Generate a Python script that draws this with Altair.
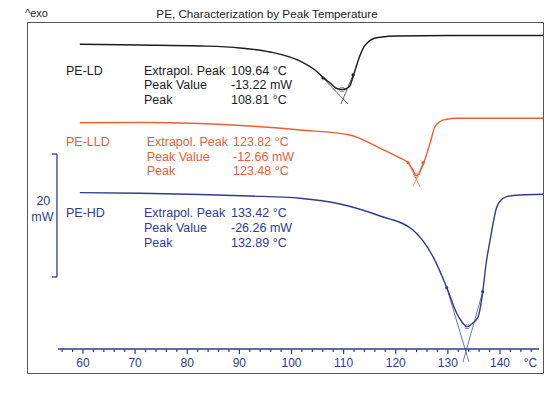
import altair as alt
import pandas as pd

# ---------------- data ----------------
# temperatures (°C) and displayed heat flow (mW, curves shown with their plot offsets)
ld_T = [59.4, 70.9, 82.5, 90.1, 95.9, 101.6, 104.5, 106.0, 107.4, 108.7, 109.7, 110.6,
        111.2, 111.8, 112.4, 113.1, 113.9, 114.7, 115.8, 117.4, 119.9, 130.4, 148.25]
ld_mW = [53.45, 53.33, 53.17, 52.85, 52.20, 50.73, 49.27, 48.13, 47.15, 46.26, 46.10, 46.26,
         46.67, 48.13, 49.76, 51.54, 53.01, 53.82, 54.39, 54.63, 54.80, 54.88, 54.88]

lld_T = [59.4, 70.9, 82.5, 92.0, 101.6, 111.2, 116.4, 120.8, 122.35, 123.3, 123.9, 124.5,
         124.8, 125.4, 126.0, 126.6, 127.5, 128.5, 129.6, 131.75, 148.25]
lld_mW = [40.70, 40.73, 40.57, 40.16, 39.51, 38.70, 36.80, 34.96, 34.20, 33.01, 32.11, 32.36,
          33.01, 34.20, 35.77, 37.40, 40.00, 40.89, 41.22, 41.41, 41.41]

hd_T = [59.4, 70.9, 82.5, 92.0, 101.6, 109.3, 117.0, 123.3, 127.15, 129.8, 131.7, 132.7,
        133.7, 134.8, 135.8, 136.7, 137.3, 138.1, 139.4, 140.2, 141.3, 143.8, 148.25]
hd_mW = [29.32, 29.22, 29.02, 28.78, 28.41, 27.48, 25.53, 23.25, 18.91, 13.87, 9.71, 8.29,
         7.53, 8.13, 9.15, 13.22, 17.56, 21.63, 27.04, 28.13, 28.67, 28.94, 29.06]

# tangent construction (start T, start mW, end T, end mW)
ld_tan = [[106.04, 47.97, 110.84, 43.74], [111.80, 48.46, 109.50, 43.74]]
lld_tan = [[122.35, 34.20, 124.65, 30.29], [125.23, 34.20, 123.31, 30.29]]
hd_tan = [[129.78, 13.87, 134.05, 1.79], [136.68, 13.22, 132.90, 1.79]]
# peak points
peaks_T = [109.7, 123.9, 133.7]
peaks_mW = [46.10, 32.11, 7.53]

# axis
tick_values = list(range(56, 147, 2))
label_values = [60, 70, 80, 90, 100, 110, 120, 130, 140]
unit_label = "°C"

# result texts
ld_lines = [["PE-LD", "Extrapol. Peak", "109.64 °C"], ["", "Peak Value", "-13.22 mW"], ["", "Peak", "108.81 °C"]]
lld_lines = [["PE-LLD", "Extrapol. Peak", "123.82 °C"], ["", "Peak Value", "-12.66 mW"], ["", "Peak", "123.48 °C"]]
hd_lines = [["PE-HD", "Extrapol. Peak", "133.42 °C"], ["", "Peak Value", "-26.26 mW"], ["", "Peak", "132.89 °C"]]

title_text = "PE, Characterization by Peak Temperature"
exo_text = "^exo"
scale_bar_mW = 20

BLACK = "#1c1c1c"
ORANGE = "#E5603A"
BLUE = "#2F3C8E"
FONT = "Liberation Sans"

xs = alt.Scale(domain=[49.26, 148.25], nice=False, zero=False)
ys = alt.Scale(domain=[0, 57.07], nice=False, zero=False)


def X(f):
    return alt.X(f, type="quantitative", scale=xs, axis=None)


def Y(f):
    return alt.Y(f, type="quantitative", scale=ys, axis=None)


def curve(T, mW, color):
    df = pd.DataFrame({"T": T, "mW": mW, "i": list(range(len(T)))})
    return alt.Chart(df).mark_line(color=color, strokeWidth=1.4, interpolate="monotone").encode(
        x=X("T"), y=Y("mW"), order="i:Q")


def tangents(tan, color):
    df = pd.DataFrame(tan, columns=["T1", "m1", "T2", "m2"])
    lines = alt.Chart(df).mark_rule(color=color, strokeWidth=0.7).encode(
        x=X("T1"), y=Y("m1"), x2="T2", y2="m2")
    pts = alt.Chart(df).mark_point(color=color, filled=True, size=10, opacity=1).encode(
        x=X("T1"), y=Y("m1"))
    return lines + pts


def textblock(lines, color, x_cols, y_rows):
    rows = []
    for r, line in enumerate(lines):
        for c, t in enumerate(line):
            if t:
                rows.append({"t": t, "T": x_cols[c], "mW": y_rows[r]})
    df = pd.DataFrame(rows)
    return alt.Chart(df).mark_text(color=color, font=FONT, fontSize=12.5, align="left",
                                   baseline="middle").encode(x=X("T"), y=Y("mW"), text="t:N")


layers = []
layers.append(curve(ld_T, ld_mW, BLACK))
layers.append(curve(lld_T, lld_mW, ORANGE))
layers.append(curve(hd_T, hd_mW, BLUE))
layers.append(tangents(ld_tan, BLACK))
layers.append(tangents(lld_tan, ORANGE))
layers.append(tangents(hd_tan, BLUE))

pk = pd.DataFrame({"T": peaks_T, "mW": peaks_mW, "c": ["LD", "LLD", "HD"]})
layers.append(alt.Chart(pk).mark_point(shape="cross", angle=45, size=22, strokeWidth=0.8, filled=False).encode(
    x=X("T"), y=Y("mW"),
    color=alt.Color("c:N", scale=alt.Scale(domain=["LD", "LLD", "HD"], range=[BLACK, ORANGE, BLUE]), legend=None)))

# texts
layers.append(textblock(ld_lines, BLACK, [56.74, 71.70, 88.39], [49.15, 46.78, 44.39]))
layers.append(textblock(lld_lines, ORANGE, [56.74, 72.22, 88.78], [37.61, 35.17, 32.89]))
layers.append(textblock(hd_lines, BLUE, [56.74, 71.70, 88.39], [26.02, 23.53, 21.19]))

# axis line, ticks, labels
axis_y = 3.90
ax = pd.DataFrame({"a": [55.2], "b": [147.5], "y": [axis_y]})
layers.append(alt.Chart(ax).mark_rule(color=BLUE, strokeWidth=1.3).encode(x=X("a"), x2="b", y=Y("y")))
tk = pd.DataFrame({"T": tick_values})
tk["y"] = axis_y
tk["y2"] = [axis_y - (0.8 if v % 10 == 0 else 0.5) for v in tick_values]
layers.append(alt.Chart(tk).mark_rule(color=BLUE, strokeWidth=1.2).encode(x=X("T"), y=Y("y"), y2="y2"))
lb = pd.DataFrame({"T": label_values + [145.85], "t": [str(v) for v in label_values] + [unit_label]})
lb["y"] = 1.63
layers.append(alt.Chart(lb).mark_text(color=BLUE, font=FONT, fontSize=12, align="center", baseline="middle").encode(
    x=X("T"), y=Y("y"), text="t:N"))

# scale bar 20 mW
sb_top = 35.61
sb = pd.DataFrame({"x": [55.01], "y": [sb_top], "y2": [sb_top - scale_bar_mW]})
layers.append(alt.Chart(sb).mark_rule(color=BLUE, strokeWidth=1.3).encode(x=X("x"), y=Y("y"), y2="y2"))
sbt = pd.DataFrame({"x": [54.05, 54.05], "x2": [55.01, 55.01], "y": [sb_top, sb_top - scale_bar_mW]})
layers.append(alt.Chart(sbt).mark_rule(color=BLUE, strokeWidth=1.3).encode(x=X("x"), x2="x2", y=Y("y")))
sbl = pd.DataFrame({"x": [52.4, 52.2], "y": [27.97, 25.37], "t": [str(scale_bar_mW), "mW"]})
layers.append(alt.Chart(sbl).mark_text(color=BLUE, font=FONT, fontSize=12.5, align="center", baseline="middle").encode(
    x=X("x"), y=Y("y"), text="t:N"))

# title and exo marker above the frame
hdr = pd.DataFrame({"t": [title_text]})
layers.append(alt.Chart(hdr).mark_text(font=FONT, fontSize=11.7, color=BLACK, align="center", baseline="middle").encode(
    x=alt.value(240), y=alt.value(-8), text="t:N"))
exo = pd.DataFrame({"t": [exo_text]})
layers.append(alt.Chart(exo).mark_text(font=FONT, fontSize=11, color=BLACK, align="left", baseline="middle").encode(
    x=alt.value(-2), y=alt.value(-8), text="t:N"))

chart = alt.layer(*layers).properties(
    width=516, height=351,
    padding={"left": 19, "top": 14, "right": 5, "bottom": 16},
    autosize="none",
    background="white",
).configure_view(stroke="#555555", strokeWidth=1)

chart.save("out.html", embed_options={"renderer": "svg", "actions": False})
